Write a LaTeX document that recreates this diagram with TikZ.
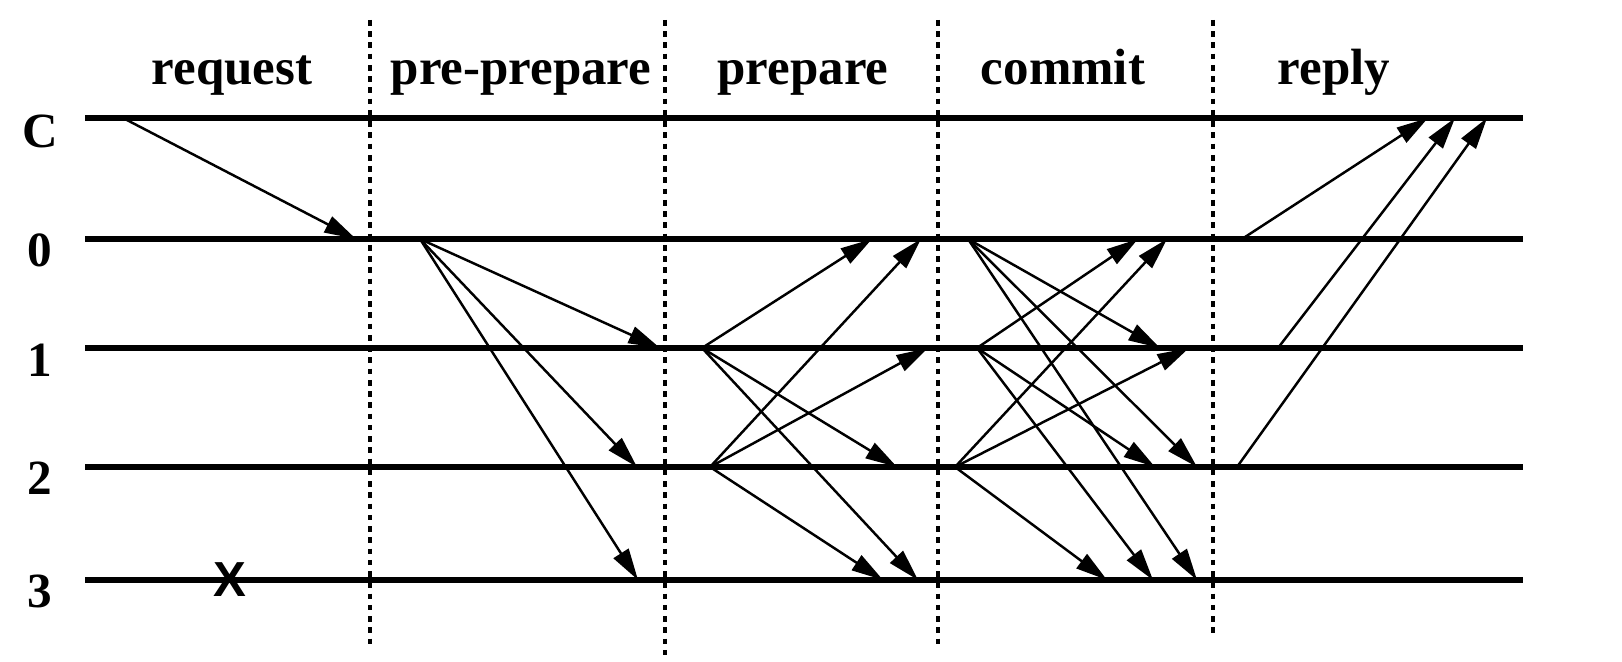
\documentclass[tikz,border=0pt]{standalone}
\usepackage{fontspec}
\setmainfont{Liberation Serif}
\setsansfont{Liberation Sans}
\usetikzlibrary{arrows.meta}

\begin{document}
\begin{tikzpicture}[
  timeline/.style={line width=1.5pt},
  divider/.style={line width=1pt,dash pattern=on 1.6pt off 1.6pt},
  msg/.style={line width=0.7pt,-{Triangle[length=9pt,width=5pt]}},
  phase/.style={anchor=base,font=\fontsize{14.5}{17}\selectfont\bfseries},
  replica/.style={anchor=base,font=\fontsize{14}{16}\selectfont\bfseries},
]
\useasboundingbox (0,0) rectangle (16.22,6.62);
% phase names
\node[phase] (request) at (2.32,5.77) {request};
\node[phase] (preprepare) at (5.21,5.77) {pre-prepare};
\node[phase] (prepare) at (8.03,5.77) {prepare};
\node[phase] (commit) at (10.63,5.77) {commit};
\node[phase] (reply) at (13.34,5.77) {reply};
% phase borders
\draw[divider] (3.70,6.42) -- (3.70,0.16);
\draw[divider] (6.65,6.42) -- (6.65,0.02);
\draw[divider] (9.38,6.42) -- (9.38,0.14);
\draw[divider] (12.13,6.42) -- (12.13,0.29);
% client and replicas
\node[replica] (rowC) at (0.40,5.14) {C};
\node[replica] (row0) at (0.40,3.95) {0};
\node[replica] (row1) at (0.40,2.85) {1};
\node[replica] (row2) at (0.40,1.67) {2};
\node[replica] (row3) at (0.40,0.54) {3};
\draw[timeline] (0.85,5.44) -- (15.23,5.44);
\draw[timeline] (0.85,4.23) -- (15.23,4.23);
\draw[timeline] (0.85,3.14) -- (15.23,3.14);
\draw[timeline] (0.85,1.95) -- (15.23,1.95);
\draw[timeline] (0.85,0.82) -- (15.23,0.82);
% replica 3 is faulty
\node[font=\fontsize{14}{16}\selectfont\sffamily\bfseries] (crash) at (2.30,0.82) {X};

% request
\coordinate (req-s) at (1.23,5.44);
\coordinate (req-t) at (3.56,4.23);
\draw[msg] (req-s) -- (req-t);

% pre-prepare
\coordinate (pp-s) at (4.20,4.23);
\coordinate (pp-1) at (6.60,3.14);
\coordinate (pp-2) at (6.37,1.95);
\coordinate (pp-3) at (6.38,0.82);
\draw[msg] (pp-s) -- (pp-1);
\draw[msg] (pp-s) -- (pp-2);
\draw[msg] (pp-s) -- (pp-3);

% prepare
\coordinate (pr-1) at (7.02,3.14);
\coordinate (pr-2) at (7.10,1.95);
\coordinate (pr-10) at (8.72,4.23);
\coordinate (pr-12) at (8.97,1.95);
\coordinate (pr-13) at (9.18,0.82);
\coordinate (pr-20) at (9.21,4.23);
\coordinate (pr-21) at (9.28,3.14);
\coordinate (pr-23) at (8.83,0.82);
\draw[msg] (pr-1) -- (pr-10);
\draw[msg] (pr-1) -- (pr-12);
\draw[msg] (pr-1) -- (pr-13);
\draw[msg] (pr-2) -- (pr-20);
\draw[msg] (pr-2) -- (pr-21);
\draw[msg] (pr-2) -- (pr-23);

% commit
\coordinate (cm-0) at (9.68,4.23);
\coordinate (cm-1) at (9.77,3.14);
\coordinate (cm-2) at (9.55,1.95);
\coordinate (cm-01) at (11.60,3.14);
\coordinate (cm-02) at (11.97,1.95);
\coordinate (cm-03) at (11.97,0.82);
\coordinate (cm-10) at (11.38,4.23);
\coordinate (cm-12) at (11.55,1.95);
\coordinate (cm-13) at (11.53,0.82);
\coordinate (cm-20) at (11.67,4.23);
\coordinate (cm-21) at (11.89,3.14);
\coordinate (cm-23) at (11.07,0.82);
\draw[msg] (cm-0) -- (cm-01);
\draw[msg] (cm-0) -- (cm-02);
\draw[msg] (cm-0) -- (cm-03);
\draw[msg] (cm-1) -- (cm-10);
\draw[msg] (cm-1) -- (cm-12);
\draw[msg] (cm-1) -- (cm-13);
\draw[msg] (cm-2) -- (cm-20);
\draw[msg] (cm-2) -- (cm-21);
\draw[msg] (cm-2) -- (cm-23);

% reply
\coordinate (rp-0) at (12.42,4.23);
\coordinate (rp-1) at (12.78,3.14);
\coordinate (rp-2) at (12.37,1.95);
\coordinate (rp-c0) at (14.28,5.44);
\coordinate (rp-c1) at (14.55,5.44);
\coordinate (rp-c2) at (14.87,5.44);
\draw[msg] (rp-0) -- (rp-c0);
\draw[msg] (rp-1) -- (rp-c1);
\draw[msg] (rp-2) -- (rp-c2);
\end{tikzpicture}
\end{document}
